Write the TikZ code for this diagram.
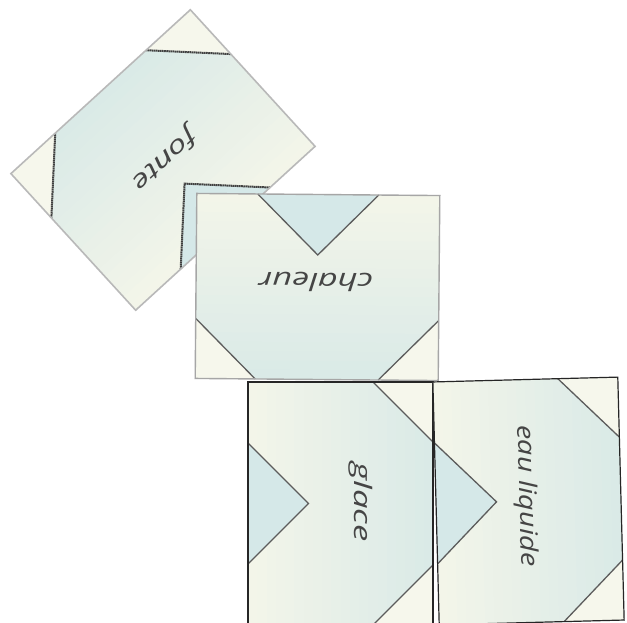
\documentclass[tikz,border=0pt]{standalone}
\usepackage{fontspec}
\newfontfamily\handfont{Open Sans}[FakeStretch=1.44]
\newfontfamily\handfontnarrow{Open Sans}[FakeStretch=1.21]
\definecolor{tcream}{HTML}{F6F7EC}
\definecolor{tblue}{HTML}{D5E8E8}
\definecolor{gradlo}{HTML}{F3F5E9}
\definecolor{gradhi}{HTML}{DAEAE7}
\definecolor{ink}{HTML}{454545}
\definecolor{seam}{HTML}{5C5C5C}

\tikzset{
  seamline/.style={draw=seam, line width=1.3pt},
  roughline/.style={draw=gray!50!black, line width=2pt, dash pattern=on 1.6pt off 0.5pt},
  crisprim/.style={draw=black!85, line width=1.2pt},
  greyrim/.style={draw=gray!70, line width=1.4pt},
  softrim/.style={draw=gray!55, line width=1.6pt},
  tilelabel/.style={font=\handfont\itshape\fontsize{24}{24}\selectfont, text=ink, inner sep=0pt},
  narrowlabel/.style={tilelabel, font=\handfontnarrow\itshape\fontsize{24}{24}\selectfont},
}

% One tile, 185 x 243, centred on the origin: a cream-to-blue band,
% a blue notch on the left edge and two cream corners on the right edge.
\newcommand\tilepattern[2]{%
  \foreach \i in {0,...,19}{%
    \pgfmathsetmacro\mixp{100-\i*100/19}%
    \pgfmathsetmacro\xa{-92.5+\i*9.25}%
    \pgfmathsetmacro\xb{min(92.5,-92.5+(\i+1)*9.25+0.6)}%
    \fill[gradlo!\mixp!gradhi] (\xa,-121.5) rectangle (\xb,121.5);
  }
  \fill[tblue] (-92.5,-60.5) -- (-32,0) -- (-92.5,60.5) -- cycle;
  \fill[tcream] (32.5,121.5) -- (92.5,121.5) -- (92.5,61.5) -- cycle;
  \fill[tcream] (32.5,-121.5) -- (92.5,-121.5) -- (92.5,-61.5) -- cycle;
  \draw[#1] (-92.5,-60.5) -- (-32,0) -- (-92.5,60.5);
  \draw[#1] (32.5,121.5) -- (92.5,61.5);
  \draw[#1] (32.5,-121.5) -- (92.5,-61.5);
  \draw[#2] (-92.5,-121.5) rectangle (92.5,121.5);
}

\begin{document}
\begin{tikzpicture}[x=1pt,y=1pt]
  \fill[white] (0,0) rectangle (627,623);
  \useasboundingbox (0,0) rectangle (627,623);

  % tilted tile
  \begin{scope}[shift={(163,463)}, rotate=132.4]
    \tilepattern{roughline}{softrim}
  \end{scope}
  \node[tilelabel, rotate=222.4] (fonte) at (164,464) {fonte};

  % tile lying across
  \begin{scope}[shift={(317.5,336)}, rotate=-90.5]
    \tilepattern{seamline}{greyrim}
  \end{scope}
  \node[tilelabel, rotate=179.5] (chaleur) at (316,341) {chaleur};

  % pair of upright tiles
  \begin{scope}[shift={(340.5,119.5)}]
    \tilepattern{seamline}{crisprim}
  \end{scope}
  \node[tilelabel, rotate=-90] (glace) at (361,121) {glace};

  \begin{scope}[shift={(528.5,122)}, rotate=1.5]
    \tilepattern{seamline}{crisprim}
  \end{scope}
  \node[narrowlabel, rotate=-88.5] (eau) at (526,127) {eau liquide};
\end{tikzpicture}
\end{document}
